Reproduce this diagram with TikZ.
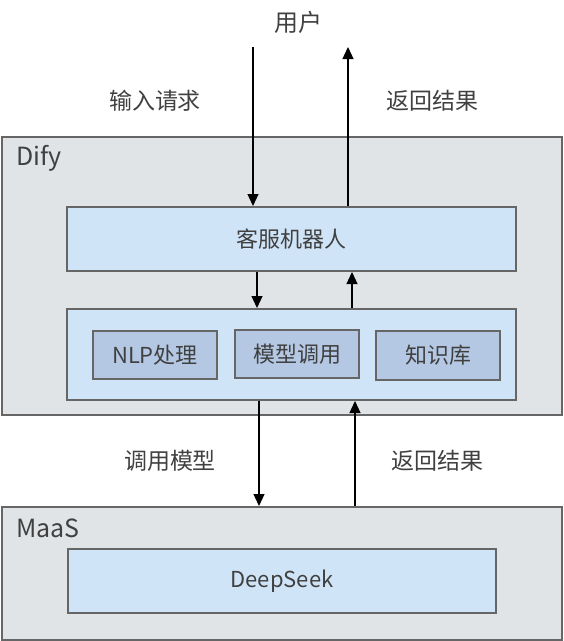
\documentclass[tikz,border=0pt]{standalone}
\usepackage{fontspec}
\setmainfont{Noto Sans CJK SC}
\usetikzlibrary{arrows.meta}
\pgfdeclarelayer{bg}
\pgfsetlayers{bg,main}
\definecolor{boxline}{HTML}{666666}
\definecolor{txt}{HTML}{404040}
\definecolor{outerfill}{HTML}{E0E4E6}
\definecolor{innerfill}{HTML}{D0E4F8}
\definecolor{subfill}{HTML}{B4C8E4}
\tikzset{
  layer/.style={draw=boxline, line width=2pt, fill=outerfill, inner sep=0pt},
  unit/.style={draw=boxline, line width=2pt, fill=innerfill, inner sep=0pt, text=txt, font=\fontsize{22}{26}\selectfont},
  part/.style={draw=boxline, line width=2pt, fill=subfill, inner sep=0pt, text=txt, font=\fontsize{22}{26}\selectfont},
  note/.style={text=txt, font=\fontsize{23}{27}\selectfont, inner sep=0pt},
  flow/.style={line width=1.2pt, -{Triangle[width=11pt,length=12pt]}}
}

\begin{document}
\begin{tikzpicture}[x=1pt, y=-1pt]
        \useasboundingbox (0,0) rectangle (564,641);
        \begin{pgfonlayer}{bg}
                \node (dify) [layer, minimum width=560pt, minimum height=278pt] at (282, 276) {};
                \node (maas) [layer, minimum width=560pt, minimum height=133pt] at (282, 573.5) {};
        \end{pgfonlayer}
        \node (difyname) [note, anchor=west, font=\fontsize{25}{29}\selectfont] at (16, 158) {Dify};
        \node (maasname) [note, anchor=west, font=\fontsize{25}{29}\selectfont] at (16, 528) {MaaS};
        \node (bot) [unit, minimum width=449pt, minimum height=64pt] at (291.5, 239) {客服机器人};
        \node (svc) [unit, minimum width=449pt, minimum height=91pt] at (291.5, 354.5) {};
        \node (nlp) [part, minimum width=124pt, minimum height=48pt] at (155, 355) {NLP处理};
        \node (call) [part, minimum width=124pt, minimum height=48pt] at (297, 354) {模型调用};
        \node (kb) [part, minimum width=124pt, minimum height=49pt] at (438, 355.5) {知识库};
        \node (ds) [unit, minimum width=428pt, minimum height=64pt] at (282, 581) {DeepSeek};
        \node (user) [note, font=\fontsize{24}{28}\selectfont] at (298.5, 22) {用户};
        \node (ask) [note] at (155, 101) {输入请求};
        \node (back1) [note] at (432, 101) {返回结果};
        \node (use) [note] at (170, 461) {调用模型};
        \node (back2) [note] at (437, 461) {返回结果};
        \coordinate (uin) at (253, 47);
        \coordinate (uout) at (348, 47);
        \draw[flow] (uin) -- (uin |- bot.north);
        \draw[flow] (uout |- bot.north) -- (uout);
        \draw[flow] (257, 0 |- bot.south) -- (257, 0 |- svc.north);
        \draw[flow] (352, 0 |- svc.north) -- (352, 0 |- bot.south);
        \draw[flow] (259, 0 |- svc.south) -- (259, 0 |- maas.north);
        \draw[flow] (355, 0 |- maas.north) -- (355, 0 |- svc.south);
\end{tikzpicture}
\end{document}
